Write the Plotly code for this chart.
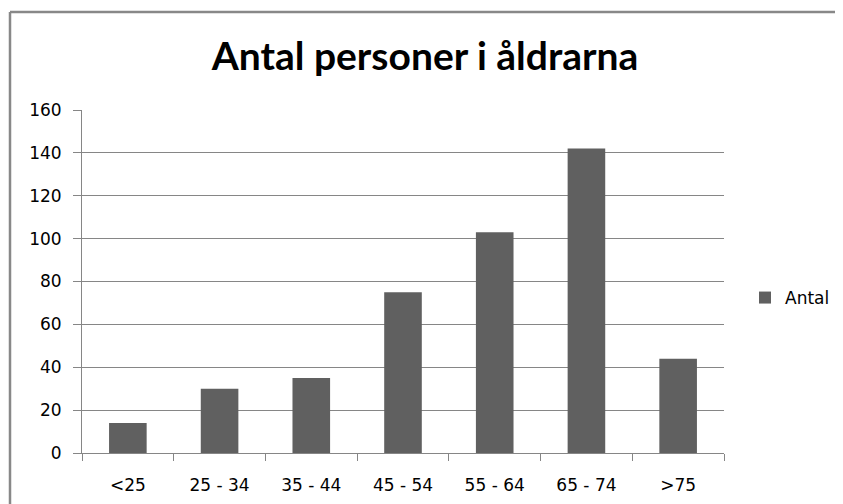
import plotly.graph_objects as go

categories = ["<25", "25 - 34", "35 - 44", "45 - 54", "55 - 64", "65 - 74", ">75"]
antal = [14, 30, 35, 75, 103, 142, 44]
y_ticks = [0, 20, 40, 60, 80, 100, 120, 140, 160]
title_text = "Antal personer i åldrarna"
series_name = "Antal"

# the page body has an 8px margin, so figure coordinates = page coordinates - 8
OFF = 8
W, H = 843 - OFF, 504 - OFF
L, R, T, B = 82 - OFF, 724 - OFF, 110 - OFF, 453 - OFF


def px_x(page_x):
    return (page_x - OFF - L) / (R - L)


def px_y(page_y):
    return (B - (page_y - OFF)) / (B - T)


fig = go.Figure()
fig.add_trace(go.Bar(
    x=categories, y=antal, name=series_name,
    marker=dict(color="#606060", line=dict(width=0)),
    showlegend=True,
))

axis_col = "#868686"
tick_font = dict(family="DejaVu Sans", size=17, color="#000000")

fig.update_layout(
    width=W, height=H,
    margin=dict(l=L, r=W - R, t=T, b=H - B, pad=0, autoexpand=False),
    paper_bgcolor="white", plot_bgcolor="white",
    bargap=0.59,
    title=dict(text="<b>" + title_text + "</b>", x=(425 - OFF) / W, xanchor="center",
               y=1 - (56 - OFF) / H, yanchor="middle",
               font=dict(family="Lato", size=39, color="#000000")),
    showlegend=True,
    legend=dict(xref="container", x=(745 - OFF) / W, xanchor="left",
                y=px_y(298), yanchor="middle",
                font=tick_font, bgcolor="rgba(0,0,0,0)", itemwidth=30),
    xaxis=dict(type="category", showgrid=False, showline=True, linecolor=axis_col, linewidth=1,
               ticks="outside", tickson="boundaries", ticklen=7, tickcolor=axis_col,
               tickfont=tick_font, ticklabelstandoff=17),
    yaxis=dict(range=[0, 160], tickvals=y_ticks, showgrid=True, gridcolor=axis_col, gridwidth=1,
               showline=True, linecolor=axis_col, linewidth=1, zeroline=False,
               ticks="outside", ticklen=8, tickcolor=axis_col, tickfont=tick_font,
               ticklabelstandoff=8),
    shapes=[
        dict(type="line", xref="paper", yref="paper",
             x0=px_x(10), x1=px_x(10),
             y0=px_y(12), y1=px_y(520),
             line=dict(color="#888888", width=2.5)),
        dict(type="line", xref="paper", yref="paper",
             x0=px_x(10), x1=px_x(860),
             y0=px_y(12), y1=px_y(12),
             line=dict(color="#888888", width=2.5)),
    ],
)

fig.write_html("out.html")
